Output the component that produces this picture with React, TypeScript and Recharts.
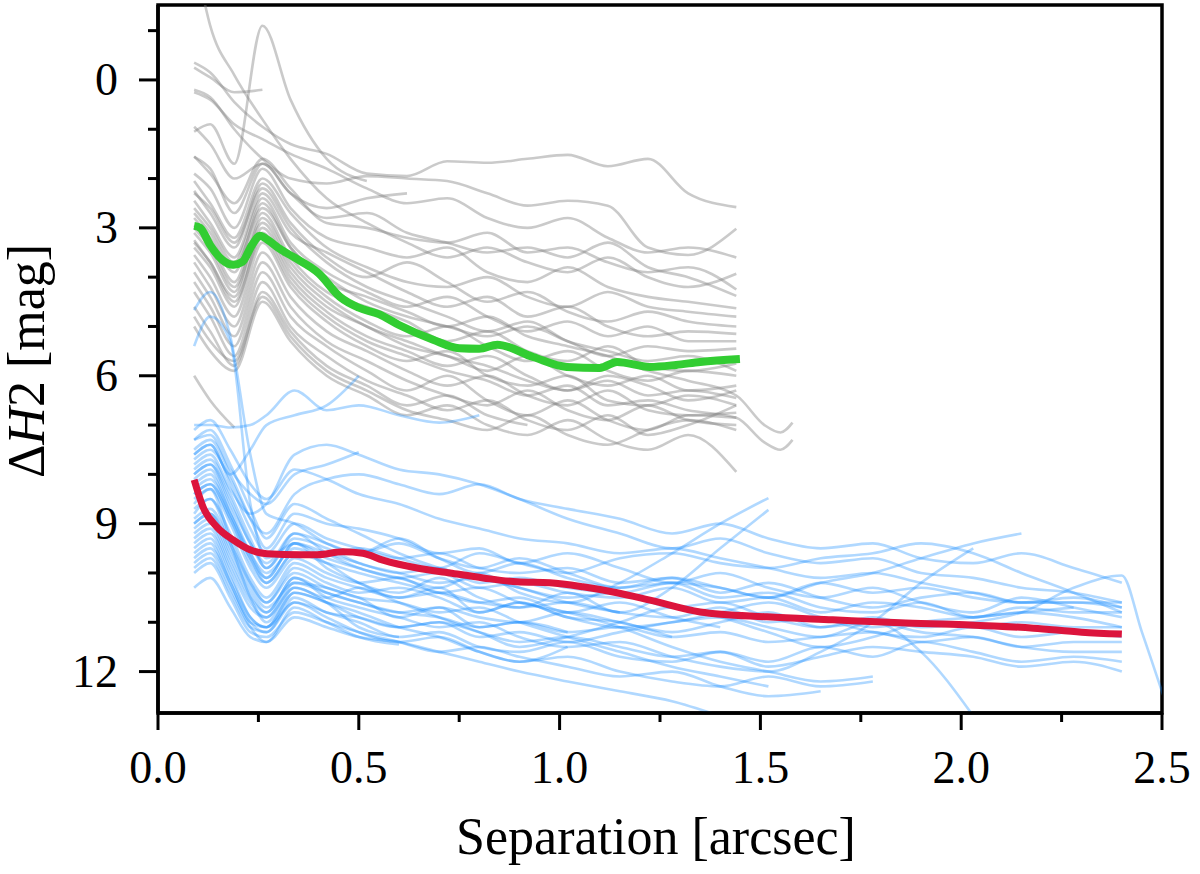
import { LineChart, Line, XAxis, YAxis, ReferenceArea } from 'recharts';

// contrast curves: grey = one sample, blue = the other, thick lines = medians
const grayX = [0.09, 0.13, 0.19, 0.26, 0.33, 0.42, 0.52, 0.62, 0.72, 0.82, 0.92, 1.02, 1.12, 1.22, 1.32, 1.44, 1.51, 1.55, 1.58];

const gray01 = [-0.35, -0.15, 0.45, 0.95, 1.3, 1.5, 1.9, 1.95, 1.65, 1.68, 1.6, 1.52, 1.75, 1.6, 2.3, 2.58];
const gray02 = [-0.25, -0.05, 0.25, 0.2];
const gray03 = [0.2, 0.35, 1.0, 1.6, 2.0, 2.1, 1.95, 2.0, 2.05, 2.3, 2.55, 2.45, 2.55, 3.4, 3.55, 3.02];
const gray04 = [1.05, 0.9, 1.7, -1.1, 0.4, 1.6, 2.05];
const gray05 = [-2.6, -1.1, -0.1, 0.8, 1.6, 2.4, 2.9, 3.3, 3.6, 3.4, 3.7, 3.9, 3.6, 4.0, 4.2, 3.93];
const gray06 = [1.56, 1.8, 2.7, 1.7, 2.3, 2.8, 2.7, 3.1, 3.3, 3.5, 3.4, 3.6, 3.3, 3.8, 4.0, 4.38];
const gray07 = [1.9, 2.2, 3.0, 1.8, 2.6, 3.2, 3.4, 3.6, 3.4, 3.9, 4.1, 3.8, 4.2, 4.4, 4.5, 4.63];
const gray08 = [2.05, 2.5, 3.2, 2.0, 2.7, 3.4, 3.8, 4.1, 4.2, 4.0, 4.4, 4.6, 4.3, 4.6, 4.7, 4.8];
const gray09 = [2.25, 2.7, 3.4, 2.1, 2.9, 3.6, 4.0, 3.7, 4.1, 4.5, 4.3, 4.7, 4.9, 4.7, 4.9, 5.0];
const gray10 = [2.45, 2.9, 3.6, 2.3, 3.1, 3.5, 3.9, 4.3, 4.6, 4.4, 4.8, 4.6, 5.0, 5.2, 5.1, 5.15];
const gray11 = [2.6, 3.0, 3.7, 2.4, 3.3, 3.9, 4.3, 4.6, 4.4, 4.8, 5.1, 4.9, 5.2, 5.0, 5.3, 5.3];
const gray12 = [2.8, 3.2, 3.9, 2.5, 3.4, 4.0, 4.5, 4.8, 5.0, 5.2, 5.0, 5.3, 5.6, 5.4, 5.5, 5.45];
const gray13 = [2.95, 3.3, 4.1, 2.7, 3.6, 4.3, 4.6, 4.9, 5.3, 5.1, 5.5, 5.7, 5.4, 5.8, 5.9, 5.75];
const gray14 = [3.1, 3.5, 4.3, 2.8, 3.7, 4.4, 4.9, 5.2, 5.0, 5.4, 5.7, 5.5, 5.9, 6.1, 5.9, 6.0];
const gray15 = [3.25, 3.7, 4.4, 3.0, 3.9, 4.6, 5.0, 5.4, 5.6, 5.9, 5.6, 6.0, 6.2, 6.0, 6.3, 6.2];
const gray16 = [3.4, 3.8, 4.6, 3.1, 4.0, 4.7, 5.2, 5.5, 5.8, 5.6, 6.0, 6.3, 6.1, 6.4, 6.3, 6.45];
const gray17 = [3.55, 4.0, 4.8, 3.3, 4.2, 4.9, 5.4, 5.7, 5.5, 6.0, 6.2, 6.0, 6.5, 6.6, 6.4, 6.6];
const gray18 = [3.7, 4.2, 5.0, 3.5, 4.4, 5.1, 5.5, 5.9, 6.2, 6.0, 6.4, 6.6, 6.3, 6.7, 6.8, 6.75];
const gray19 = [3.9, 4.4, 5.2, 3.7, 4.6, 5.3, 5.7, 6.1, 6.4, 6.6, 6.3, 6.7, 6.9, 6.6, 6.9, 7.0];
const gray20 = [4.1, 4.6, 5.4, 3.9, 4.8, 5.4, 5.9, 6.3, 6.0, 6.5, 6.8, 6.5, 6.9, 7.1, 6.8, 6.85];
const gray21 = [4.3, 4.8, 5.6, 4.1, 5.0, 5.6, 6.1, 6.4, 6.7, 6.5, 6.9, 7.1, 6.8, 7.2, 7.0, 6.6];
const gray22 = [4.6, 5.1, 5.8, 4.3, 5.1, 5.8, 6.2, 6.6, 6.4, 6.8, 7.0];
const gray23 = [5.0, 5.5, 5.9, 4.5, 5.3, 6.0, 6.4, 6.8, 6.6, 7.0, 7.2, 6.9, 7.3, 7.5, 7.2, 7.95];
const gray24 = [6.0, 6.5, 7.05];
const gray25 = [0.95, 1.3, 2.0, 1.7, 2.3, 2.6, 2.4, 2.3];
const gray26 = [1.55, 1.9, 2.5, 1.6, 2.2, 2.9, 3.0, 3.2, 3.3, 3.1, 3.5, 3.4, 3.7, 3.9, 3.8, 4.25];
const gray27 = [2.7, 3.1, 3.8, 2.6, 3.4, 4.1, 4.4, 4.7, 5.0, 4.8, 5.2, 5.4, 5.6, 5.9, 6.1, 6.4, 7.0, 7.15, 6.95];
const gray28 = [3.3, 3.7, 4.5, 3.2, 4.1, 4.8, 5.3, 5.6, 5.9, 6.1, 6.4, 6.2, 6.6, 6.5, 6.7, 6.85, 7.35, 7.5, 7.3];
const gray29 = [0.25, 0.4, 0.9, 1.2, 1.5, 1.8, 2.2, 2.5, 2.4, 2.8, 3.0, 2.8, 3.2, 3.5, 3.4, 3.6];
const gray30 = [2.3, 2.6, 3.3, 2.2, 3.0, 3.7, 4.2, 4.5, 4.8, 5.1, 4.9, 5.3, 5.5, 5.7, 5.6, 5.9];
const gray31 = [3.0, 3.4, 4.2, 2.9, 3.8, 4.5, 5.0, 5.3, 5.6, 5.8, 6.1, 6.3, 6.0, 6.2, 6.5, 6.3];
const gray32 = [4.8, 5.3, 5.7, 4.4, 5.2, 5.9, 6.3, 6.7, 6.9, 7.1, 6.8, 7.2, 7.4, 7.1, 6.9, 7.1];

const grayLines = [
  gray01, gray02, gray03, gray04, gray05, gray06, gray07, gray08, gray09, gray10, gray11,
  gray12, gray13, gray14, gray15, gray16, gray17, gray18, gray19, gray20, gray21, gray22,
  gray23, gray24, gray25, gray26, gray27, gray28, gray29, gray30, gray31, gray32,
];

const blueX = [0.09, 0.13, 0.18, 0.23, 0.27, 0.34, 0.42, 0.5, 0.6, 0.7, 0.8, 0.9, 1.02, 1.15, 1.28, 1.4, 1.52, 1.65, 1.78, 1.9, 2.03, 2.15, 2.28, 2.4, 2.45, 2.52];

const blue01 = [7.0, 7.0, 7.05, 7.0, 6.8, 6.3, 6.7, 6.6, 6.8, 6.95, 6.8];
const blue02 = [5.4, 4.8, 5.3, 8.6, 9.7, 9.4, 9.9, 10.2, 10.5, 10.3, 10.8, 10.6, 10.9, 11.0, 11.3];
const blue03 = [4.67, 4.3, 5.2, 7.6, 8.8, 9.0, 9.4, 9.6, 9.3, 9.7, 10.0, 9.8, 10.1, 10.3, 10.2, 10.5, 10.4, 10.7, 10.8, 10.6, 10.9, 10.8, 10.9, 11.1];
const blue04 = [7.6, 7.4, 8.0, 7.5, 7.0, 6.8, 6.6, 6.0];
const blue05 = [7.3, 7.2, 7.9, 8.4, 8.6, 8.0, 7.8, 7.55];
const blue06 = [8.8, 8.5, 9.4, 10.5, 11.0, 10.3, 10.6, 11.1, 11.3];
const blue07 = [9.8, 9.6, 10.3, 11.1, 11.4, 10.7, 11.0, 11.3, 11.45];
const blue08 = [9.4, 9.2, 10.0, 10.9, 11.1, 10.4, 10.6, 10.8, 11.1, 11.3, 11.6, 11.8, 11.5];
const blue09 = [8.6, 8.3, 9.3, 10.2, 10.6, 10.0, 10.3, 10.5, 10.9, 10.7, 11.1, 11.0, 11.2];
const blue10 = [8.0, 7.8, 8.5, 9.4, 9.8, 9.2, 9.6, 9.9, 10.1, 10.3, 10.0, 10.4, 10.6, 10.2, 9.6, 9.0, 8.48];
const blue11 = [8.3, 8.1, 8.8, 9.6, 10.0, 9.5, 9.8, 10.2, 10.4, 10.1, 10.5, 10.7, 10.4, 10.8, 10.3, 9.5, 8.72];
const blue12 = [7.8, 7.6, 8.3, 8.8, 8.6, 7.6, 7.4, 7.6, 7.9, 8.0, 8.2, 8.5, 8.9, 9.2, 9.5, 9.3, 9.6, 9.8, 9.7, 10.0, 10.1, 10.3, 10.4, 10.6];
const blue13 = [9.0, 8.8, 9.6, 10.4, 10.8, 10.1, 10.5, 10.7, 10.9, 11.1, 11.0, 11.3, 11.5, 11.4, 11.7, 11.9, 12.0, 11.6, 11.0, 10.2, 9.5];
const blue14 = [8.4, 8.2, 8.9, 9.7, 10.1, 9.4, 9.6, 9.8, 10.0, 9.9, 10.2, 10.1, 10.3, 10.4, 10.2, 10.3, 10.5, 10.2, 10.0, 9.7, 9.4, 9.2];
const blue15 = [9.2, 9.0, 9.8, 10.6, 10.9, 10.2, 10.4, 10.6, 10.8, 10.7, 10.9, 11.0, 10.8, 11.0, 11.2, 11.0, 10.8, 11.1, 10.9, 11.1, 11.0, 10.8, 10.3, 10.05, 11.2, 12.9];
const blue16 = [9.6, 9.4, 10.2, 11.0, 11.2, 10.5, 10.8, 10.9, 11.1, 11.0, 11.3, 11.2, 11.4, 11.2, 11.0, 10.9, 11.1, 11.3, 11.0, 11.6, 12.9];
const blue17 = [7.6, 7.4, 8.2, 9.1, 9.6, 9.0, 9.3, 9.5, 9.7, 9.6, 9.9, 10.0, 9.9, 10.2, 10.1, 10.3, 10.5, 10.2, 10.4, 10.3, 10.5, 10.6, 10.6, 10.6];
const blue18 = [8.1, 7.9, 8.7, 9.6, 10.1, 9.4, 9.7, 9.9, 10.1, 10.0, 10.3, 10.2, 10.4, 10.5, 10.3, 10.6, 10.5, 10.8, 10.6, 10.7, 10.9, 10.7, 10.8, 10.8];
const blue19 = [8.7, 8.5, 9.2, 10.1, 10.5, 9.8, 10.1, 10.3, 10.5, 10.4, 10.6, 10.7, 10.6, 10.8, 10.9, 10.7, 11.0, 10.9, 11.1, 11.0, 11.1, 11.0, 11.1, 11.1];
const blue20 = [9.1, 8.9, 9.7, 10.5, 10.8, 10.1, 10.4, 10.6, 10.8, 10.9, 11.1, 11.0, 11.2, 11.1, 11.3, 11.2, 11.4, 11.3, 11.2, 11.4, 11.3, 11.5, 11.4, 11.4];
const blue21 = [9.9, 9.7, 10.4, 11.1, 11.2, 10.6, 10.8, 11.0, 11.3, 11.2, 11.5, 11.6, 11.4, 11.7, 11.8, 11.6, 11.9, 11.7, 11.5, 11.6, 11.7, 11.9, 11.8, 12.0];
const blue22 = [7.9, 7.7, 8.4, 9.3, 9.9, 9.3, 9.5, 9.8, 10.0, 10.2, 10.1, 10.3, 10.5, 10.4, 10.7, 10.6, 10.9, 11.1, 11.0, 11.2, 11.3, 11.5, 11.6, 11.6];
const blue23 = [8.2, 8.0, 8.8, 9.7, 10.2, 9.6, 9.6, 9.5, 9.7, 9.9, 9.6, 9.8, 10.0, 9.7, 9.6, 9.8, 9.9, 9.7, 9.6, 9.4, 9.6, 10.0, 10.4, 10.8];
const blue24 = [9.5, 9.3, 10.1, 10.9, 11.1, 10.6, 10.9, 11.2, 11.4, 11.3, 11.6, 11.8, 11.7, 12.0, 12.2, 12.3, 12.1, 12.3, 12.2];
const blue25 = [10.3, 10.1, 10.7, 11.3, 11.4, 10.9, 11.1, 11.3, 11.4, 11.6, 11.8, 12.0, 12.2, 12.4, 12.6, 12.9];
const blue26 = [9.0, 8.8, 9.5, 10.3, 10.7, 10.2, 10.3, 10.5, 10.6, 10.8, 10.7, 11.0, 11.3, 11.6, 11.9, 12.1, 12.3];
const blue27 = [8.5, 8.3, 9.0, 9.9, 10.3, 9.7, 10.0, 10.2, 10.1, 10.4, 10.3, 10.6, 10.8, 11.1, 11.5, 11.8, 12.0, 12.2, 12.1];
const blue28 = [7.3, 7.1, 7.8, 8.7, 9.3, 8.6, 8.9, 9.2, 9.6, 9.9, 10.1, 10.3, 10.6, 10.8];
const blue29 = [7.5, 7.3, 8.0, 8.9, 9.5, 8.8, 9.0, 9.1, 9.3, 9.6, 9.5, 9.8, 9.6, 9.9, 10.2, 10.0, 10.3, 10.5, 10.3, 10.6, 10.8, 10.5, 10.7, 10.9];
const blue30 = [8.9, 8.7, 9.4, 10.2, 10.6, 9.9, 10.2, 10.4, 10.3, 10.5, 10.8, 10.6, 10.9, 11.1, 11.0, 10.8, 10.6, 10.9, 11.2, 11.3, 11.1, 11.3, 11.2, 11.3];
const blue31 = [9.3, 9.1, 9.9, 10.7, 10.9, 10.3, 10.5, 10.3, 10.6, 10.9, 11.2, 11.5, 11.3, 11.0, 10.7, 10.9, 11.2, 11.5, 11.3, 11.0, 10.9, 10.8, 10.7];
const blue32 = [8.0, 7.8, 8.6, 9.4, 9.9, 9.2, 9.4, 9.6, 9.4, 9.7, 9.9, 9.7, 10.0, 10.3, 10.1, 10.4, 10.2, 10.5, 10.7, 10.5, 10.4, 10.6, 10.6, 10.7];
const blue33 = [10.0, 9.8, 10.5, 11.2, 11.3, 10.8, 11.0, 11.2, 11.4, 11.6, 11.5, 11.7, 11.9, 12.1, 12.0, 12.3, 12.5, 12.4];
const blue34 = [7.1, 6.9, 7.5, 8.2, 8.5, 7.9, 8.1, 8.4, 8.6, 8.9, 9.1, 9.3, 9.4, 9.6, 9.5, 9.7, 9.9, 10.1, 10.0, 10.2, 10.4, 10.6, 10.5, 10.7];
const blue35 = [9.7, 9.5, 10.2, 11.0, 11.1, 10.4, 10.6, 10.9, 11.1, 11.0, 11.2, 11.4, 11.3, 11.5, 11.7, 11.6, 11.8, 11.5, 11.7, 11.4, 11.6, 11.8, 11.7, 11.8];
const blue36 = [8.4, 8.2, 8.9, 9.8, 10.2, 9.6, 9.8, 10.0, 10.2, 10.4, 10.6, 10.5, 10.8, 10.6, 10.9, 11.1];
const blue37 = [7.7, 7.5, 8.1, 8.9, 9.2, 8.4, 8.1, 8.0, 8.2, 8.4, 8.2, 8.5, 8.7, 8.9, 9.2, 9.0, 9.3, 9.5, 9.4, 9.7, 9.8, 9.6, 9.9, 10.2];

const blueLines = [
  blue01, blue02, blue03, blue04, blue05, blue06, blue07, blue08, blue09, blue10, blue11, blue12,
  blue13, blue14, blue15, blue16, blue17, blue18, blue19, blue20, blue21, blue22, blue23, blue24,
  blue25, blue26, blue27, blue28, blue29, blue30, blue31, blue32, blue33, blue34, blue35, blue36, blue37,
];

const greenX = [0.09, 0.105, 0.13, 0.16, 0.187, 0.21, 0.234, 0.254, 0.274, 0.3, 0.337, 0.4, 0.453, 0.5, 0.55, 0.6, 0.685, 0.75, 0.8, 0.845, 0.934, 1.018, 1.1, 1.143, 1.225, 1.29, 1.35, 1.449];
const greenY = [2.96, 3.0, 3.35, 3.65, 3.75, 3.69, 3.35, 3.16, 3.25, 3.41, 3.59, 3.92, 4.4, 4.62, 4.75, 4.97, 5.27, 5.44, 5.45, 5.37, 5.62, 5.82, 5.84, 5.72, 5.82, 5.78, 5.72, 5.66];

const redX = [0.09, 0.112, 0.147, 0.187, 0.229, 0.271, 0.354, 0.396, 0.461, 0.51, 0.56, 0.645, 0.727, 0.81, 0.894, 0.976, 1.058, 1.143, 1.225, 1.35, 1.516, 1.68, 1.848, 2.01, 2.18, 2.3, 2.4];
const redY = [8.11, 8.66, 9.07, 9.33, 9.53, 9.61, 9.63, 9.63, 9.57, 9.6, 9.74, 9.9, 10.0, 10.1, 10.18, 10.2, 10.28, 10.4, 10.55, 10.79, 10.89, 10.95, 11.01, 11.05, 11.12, 11.2, 11.24];

const xDomain = [0, 2.5];
const yDomain = [-1.52, 12.84];
const xTicks = [0, 0.25, 0.5, 0.75, 1, 1.25, 1.5, 1.75, 2, 2.25, 2.5];
const yTicks = [-1, 0, 1, 2, 3, 4, 5, 6, 7, 8, 9, 10, 11, 12];

const serif = "'Liberation Serif', 'Times New Roman', serif";

const toPoints = (xs: number[], ys: number[]) => ys.map((y, i) => ({ x: xs[i], y }));

function XTick(props: any) {
  const { x, y, payload } = props;
  const v = payload.value;
  const major = Math.abs(v * 2 - Math.round(v * 2)) < 1e-6;
  return (
    <g>
      <line x1={x} x2={x} y1={y} y2={y + (major ? 17 : 9)} stroke="#000" strokeWidth={3} />
      {major && (
        <text x={x} y={y + 70} textAnchor="middle" fontFamily={serif} fontSize={46} fill="#000">
          {v.toFixed(1)}
        </text>
      )}
    </g>
  );
}

function YTick(props: any) {
  const { x, y, payload } = props;
  const v = payload.value;
  const major = v % 3 === 0;
  return (
    <g>
      <line x1={x - (major ? 19 : 10)} x2={x} y1={y} y2={y} stroke="#000" strokeWidth={3} />
      {major && (
        <text x={x - 40} y={y + 15} textAnchor="end" fontFamily={serif} fontSize={46} fill="#000">
          {v}
        </text>
      )}
    </g>
  );
}

function XLabel(props: any) {
  const vb = props.viewBox || { x: 158, y: 713, width: 1004, height: 161 };
  return (
    <text x={vb.x + vb.width / 2 - 4} y={vb.y + 141} textAnchor="middle" fontFamily={serif} fontSize={52} fill="#000">
      Separation [arcsec]
    </text>
  );
}

function YLabel(props: any) {
  const vb = props.viewBox || { x: 0, y: 5, width: 158, height: 708 };
  const cx = vb.x + 44;
  const cy = vb.y + vb.height / 2 + 2;
  return (
    <text x={cx} y={cy} transform={`rotate(-90, ${cx}, ${cy})`} textAnchor="middle" fontFamily={serif} fontSize={52} fill="#000">
      Δ<tspan fontStyle="italic">H</tspan>2 [mag]
    </text>
  );
}

export default function App() {
  return (
    <div style={{ position: 'absolute', left: 0, top: 0, background: '#fff' }}>
      <LineChart width={1200} height={874} margin={{ top: 5, right: 38, left: 0, bottom: 0 }}>
        <XAxis
          dataKey="x"
          type="number"
          domain={xDomain}
          allowDataOverflow
          ticks={xTicks}
          interval={0}
          height={161}
          tickSize={0}
          tickMargin={0}
          tickLine={false}
          tick={<XTick />}
          axisLine={{ stroke: '#000', strokeWidth: 3.5 }}
          label={<XLabel />}
        />
        <YAxis
          dataKey="y"
          type="number"
          domain={yDomain}
          reversed
          allowDataOverflow
          ticks={yTicks}
          interval={0}
          width={158}
          tickSize={0}
          tickMargin={0}
          tickLine={false}
          tick={<YTick />}
          axisLine={{ stroke: '#000', strokeWidth: 3.5 }}
          label={<YLabel />}
        />
        {grayLines.map((ys, i) => (
          <Line
            key={`g${i}`}
            data={toPoints(grayX, ys)}
            dataKey="y"
            type="monotone"
            stroke="#808080"
            strokeOpacity={0.42}
            strokeWidth={2.6}
            dot={false}
            activeDot={false}
            isAnimationActive={false}
          />
        ))}
        {blueLines.map((ys, i) => (
          <Line
            key={`b${i}`}
            data={toPoints(blueX, ys)}
            dataKey="y"
            type="monotone"
            stroke="#1E90FF"
            strokeOpacity={0.35}
            strokeWidth={2.6}
            dot={false}
            activeDot={false}
            isAnimationActive={false}
          />
        ))}
        <Line
          data={toPoints(greenX, greenY)}
          dataKey="y"
          type="monotone"
          stroke="#32CD32"
          strokeWidth={8}
          dot={false}
          activeDot={false}
          isAnimationActive={false}
        />
        <Line
          data={toPoints(redX, redY)}
          dataKey="y"
          type="monotone"
          stroke="#DC143C"
          strokeWidth={7}
          dot={false}
          activeDot={false}
          isAnimationActive={false}
        />
        <ReferenceArea
          x1={xDomain[0]}
          x2={xDomain[1]}
          y1={yDomain[0]}
          y2={yDomain[1]}
          ifOverflow="visible"
          fill="none"
          fillOpacity={0}
          stroke="#000"
          strokeWidth={3.5}
        />
      </LineChart>
    </div>
  );
}
